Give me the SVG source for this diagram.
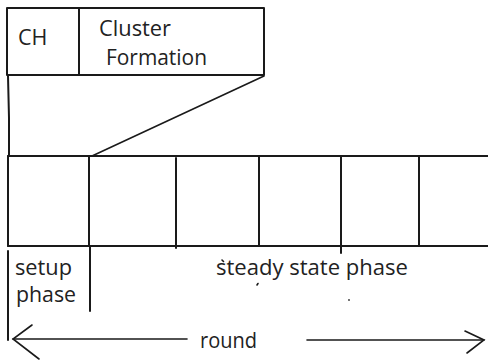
<svg xmlns="http://www.w3.org/2000/svg" width="488" height="362" viewBox="0 0 488 362">
  <style>
    .ln { stroke: #1a1a1a; stroke-width: 2; fill: none; stroke-linecap: round; stroke-linejoin: round; }
    .thin { stroke: #1a1a1a; stroke-width: 1.6; fill: none; stroke-linecap: round; }
    .t { font-family: "Open Sans", "Liberation Sans", Arial, sans-serif; font-size: 21.5px; fill: #222; }
  </style>
  <rect width="488" height="362" fill="#fff"/>

  <!-- setup phase breakdown: CH + Cluster Formation -->
  <g id="setup-detail">
    <polyline class="ln" points="264,8 7,8 7,75 264,75 264,8"/>
    <line class="ln" x1="79" y1="8" x2="79" y2="75"/>
    <text class="t" x="18" y="45">CH</text>
    <text class="t" x="99" y="36" textLength="72" lengthAdjust="spacingAndGlyphs">Cluster</text>
    <text class="t" x="106" y="65" textLength="101" lengthAdjust="spacingAndGlyphs">Formation</text>
  </g>

  <!-- round timeline strip -->
  <g id="timeline">
    <line class="ln" x1="8" y1="156" x2="488" y2="156"/>
    <line class="ln" x1="8" y1="246" x2="488" y2="246"/>
    <line class="ln" x1="8" y1="156" x2="8" y2="246"/>
    <line class="ln" x1="89" y1="156" x2="89" y2="246"/>
    <line class="ln" x1="176" y1="158" x2="176" y2="248"/>
    <line class="ln" x1="259" y1="156" x2="259" y2="246"/>
    <line class="ln" x1="341" y1="156" x2="341" y2="253"/>
    <line class="ln" x1="419" y1="156" x2="419" y2="246"/>
  </g>

  <!-- zoom connectors from the setup detail to the first slot -->
  <g id="connectors">
    <polyline class="ln" points="8,76 9,118 9,156"/>
    <line class="thin" x1="264" y1="76" x2="92" y2="156"/>
  </g>

  <!-- phase labels -->
  <g id="phases">
    <line class="ln" x1="8" y1="251" x2="8" y2="340"/>
    <line class="ln" x1="90" y1="246" x2="90" y2="311"/>
    <text class="t" x="15" y="275" textLength="57" lengthAdjust="spacingAndGlyphs">setup</text>
    <text class="t" x="16" y="302" textLength="60" lengthAdjust="spacingAndGlyphs">phase</text>
    <text class="t" x="216" y="275" textLength="192" lengthAdjust="spacingAndGlyphs">steady state phase</text>
    <path class="thin" d="M222,260 l1.5,1.5 M257,285 l1,-1.5" stroke-width="1.2"/>
    <circle cx="349" cy="300" r="0.9" fill="#333"/>
  </g>

  <!-- round span arrow -->
  <g id="round">
    <line class="thin" x1="13" y1="339" x2="187" y2="339"/>
    <polyline class="thin" points="32,325 13,339 39,359"/>
    <line class="thin" x1="307" y1="340" x2="484" y2="340"/>
    <polyline class="thin" points="465,331 484,340 467,353"/>
    <text class="t" x="200" y="348" textLength="57" lengthAdjust="spacingAndGlyphs">round</text>
  </g>
</svg>
